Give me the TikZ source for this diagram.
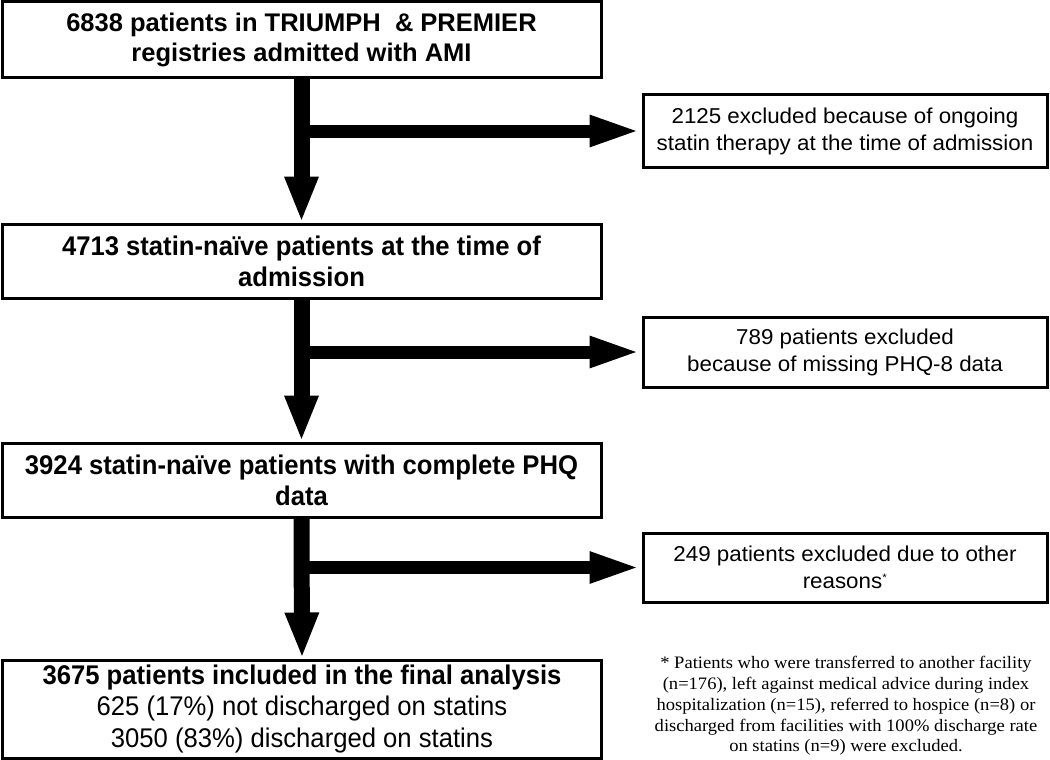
\documentclass[tikz,border=0pt]{standalone}
\usepackage{fontspec}
\setmainfont{Liberation Sans}
\newfontfamily\narrowfont[FakeStretch=0.95]{Liberation Sans}
\newfontfamily\widefont[FakeStretch=1.04]{Liberation Sans}
\newfontfamily\seriffont[FakeStretch=1.06]{Liberation Serif}
\usetikzlibrary{arrows.meta}
\begin{document}
\begin{tikzpicture}[x=1pt,y=-1pt,
  mainbox/.style={draw, line width=3pt, minimum width=599pt, inner sep=0pt, align=center},
  sidebox/.style={draw, line width=3pt, minimum width=404pt, inner sep=0pt, align=center,
    font=\widefont\fontsize{21.5}{27}\selectfont},
  downarrow/.style={line width=16pt, -{Triangle[width=31pt,length=46pt]}},
  sidearrow/.style={line width=13pt, -{Triangle[width=28pt,length=52pt]}}]
\useasboundingbox (0,0) rectangle (1050,760);

\node[mainbox, minimum height=76pt, font=\bfseries\fontsize{25.5}{30}\selectfont] (b1) at (301.5,40)
  {6838 patients in TRIUMPH \ \& PREMIER\\registries admitted with AMI};
\node[sidebox, minimum height=72pt] (b2) at (845,131)
  {2125 excluded because of ongoing\\statin therapy at the time of admission};
\node[mainbox, minimum height=74pt, font=\narrowfont\bfseries\fontsize{27}{31}\selectfont] (b3) at (301.5,261)
  {4713 statin-naïve patients at the time of\\admission};
\node[sidebox, minimum height=70pt] (b4) at (845,352)
  {789 patients excluded\\because of missing PHQ-8 data};
\node[mainbox, minimum height=74pt, font=\narrowfont\bfseries\fontsize{27}{31}\selectfont] (b5) at (301.5,480)
  {3924 statin-naïve patients with complete PHQ\\data};
\node[sidebox, minimum height=69pt] (b6) at (845,567.5)
  {249 patients excluded due to other\\reasons\textsuperscript{\fontsize{11}{11}\selectfont *}};
\node[mainbox, minimum height=98pt, font=\narrowfont\fontsize{27}{31.5}\selectfont] (b7) at (302,709)
  {\bfseries 3675 patients included in the final analysis\\
   625 (17\%) not discharged on statins\\
   3050 (83\%) discharged on statins};
\node[align=center, inner sep=0pt, font=\seriffont\fontsize{17.5}{20.8}\selectfont] (note) at (846,706)
  {* Patients who were transferred to another facility\\
   (n=176), left against medical advice during index\\
   hospitalization (n=15), referred to hospice (n=8) or\\
   discharged from facilities with 100\% discharge rate\\
   on statins (n=9) were excluded.};

\draw[downarrow] (b1.south) -- (b3.north);
\draw[sidearrow] (b1.south |- b2.west) -- (b2.west);
\draw[downarrow] (b3.south) -- (b5.north);
\draw[sidearrow] (b3.south |- b4.west) -- (b4.west);
\draw[downarrow] (b5.south) -- (b7.north);
\draw[sidearrow] (b5.south |- b6.west) -- (b6.west);
\end{tikzpicture}
\end{document}
